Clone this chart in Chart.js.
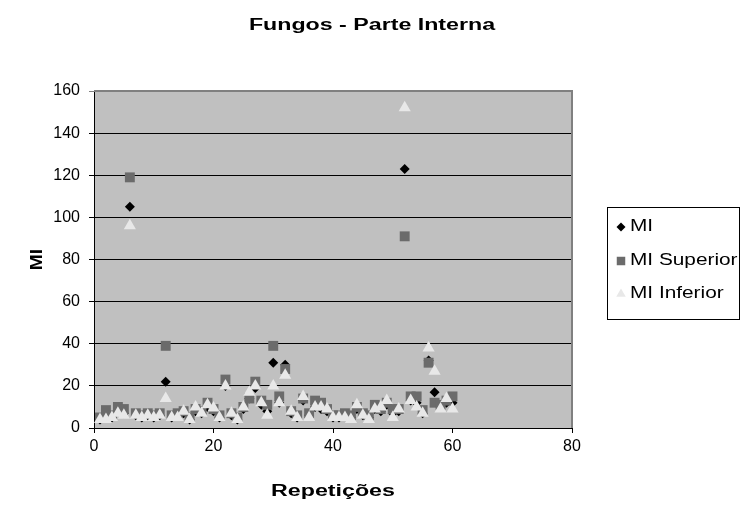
<!DOCTYPE html>
<html>
<head>
<meta charset="utf-8">
<title>Fungos - Parte Interna</title>
<script src="https://cdn.jsdelivr.net/npm/chart.js@4.4.1/dist/chart.umd.min.js"></script>
<style>
  html, body { margin: 0; padding: 0; background: #ffffff; }
  #wrap { width: 743px; height: 513px; }
</style>
</head>
<body>
<div id="wrap"><canvas id="fungos" width="743" height="513"></canvas></div>
<script>
// Repetições (eixo X)
const repeticoes = [
  1, 2, 3, 4, 5, 6, 7, 8, 9, 10,
  11, 12, 13, 14, 15, 16, 17, 18, 19, 20,
  21, 22, 23, 24, 25, 26, 27, 28, 29, 30,
  31, 32, 33, 34, 35, 36, 37, 38, 39, 40,
  41, 42, 43, 44, 45, 46, 47, 48, 49, 50,
  51, 52, 53, 54, 55, 56, 57, 58, 59, 60
];

const mi = [
  4, 6, 5, 8, 7, 105, 6, 5, 6, 5,
  6, 22, 5, 6, 7, 4, 8, 7, 10, 8,
  5, 20, 6, 4, 9, 14, 19, 11, 8, 31,
  12, 30, 7, 5, 13, 6, 10, 9, 8, 5,
  5, 6, 5, 9, 6, 5, 9, 8, 11, 7,
  8, 123, 13, 12, 7, 32, 17, 10, 12, 12
];

const miSuperior = [
  5, 8.5, 6, 10, 9, 119, 7, 6, 7, 6,
  7, 39, 6, 7, 8, 5, 9, 8, 12, 9,
  6, 23, 7, 5, 10, 14, 22, 13, 11, 39,
  15, 28, 8, 6, 14, 7, 13, 12, 9, 6,
  6, 7, 6, 10, 7, 6, 11, 9, 12, 9,
  9, 91, 15, 15, 8.5, 31, 12, 11, 13, 15
];

const miInferior = [
  4, 4, 5, 7, 6, 96, 6, 5, 6, 5,
  6, 14, 5, 5, 8, 4, 10, 7, 11, 9.5,
  5, 20, 7, 4, 10, 17, 20, 12, 6, 20,
  12, 25, 8, 5, 15, 5, 10, 10, 9, 5,
  5, 5, 4, 11, 6, 4, 9, 10, 13, 5,
  9, 152, 13, 10, 7, 38, 27, 9, 14, 9
];

const xTicks = [0, 20, 40, 60, 80];
const yTicks = [0, 20, 40, 60, 80, 100, 120, 140, 160];

const FONT = '"Liberation Sans", Arial, sans-serif';

function toPoints(values) {
  return values.map((v, i) => ({ x: repeticoes[i], y: v }));
}

const series = [
  { label: 'MI', data: mi, style: 'rectRot', color: '#000000', radius: 5, legendRadius: 4.5, order: 2 },
  { label: 'MI Superior', data: miSuperior, style: 'rect', color: '#6b6b6b', radius: 7, legendRadius: 6, order: 1 },
  { label: 'MI Inferior', data: miInferior, style: 'triangle', color: '#e8e8e8', radius: 7, legendRadius: 5.5, order: 0 }
];

// gray plot area with the darker frame on top/right
const plotArea = {
  id: 'plotArea',
  beforeDraw(chart) {
    const { ctx, chartArea: a } = chart;
    ctx.save();
    ctx.fillStyle = '#c0c0c0';
    ctx.fillRect(a.left, a.top, a.right - a.left, a.bottom - a.top);
    ctx.restore();
  },
  beforeDatasetsDraw(chart) {
    const { ctx, chartArea: a } = chart;
    ctx.save();
    ctx.strokeStyle = '#808080';
    ctx.lineWidth = 2;
    ctx.beginPath();
    ctx.moveTo(a.left, a.top);
    ctx.lineTo(a.right, a.top);
    ctx.lineTo(a.right, a.bottom);
    ctx.stroke();
    ctx.restore();
  }
};

function drawMarker(ctx, style, x, y, r) {
  ctx.beginPath();
  if (style === 'rectRot') {
    ctx.moveTo(x - r, y);
    ctx.lineTo(x, y - r);
    ctx.lineTo(x + r, y);
    ctx.lineTo(x, y + r);
  } else if (style === 'rect') {
    const s = r * Math.SQRT1_2;
    ctx.rect(x - s, y - s, 2 * s, 2 * s);
  } else {
    ctx.moveTo(x, y - r);
    ctx.lineTo(x + r * 0.866, y + r * 0.5);
    ctx.lineTo(x - r * 0.866, y + r * 0.5);
  }
  ctx.closePath();
  ctx.fill();
}

// wide lettering: text stretched along its baseline
function wideText(ctx, text, x, y, opts) {
  ctx.save();
  ctx.translate(x, y);
  if (opts.rotate) ctx.rotate(opts.rotate);
  ctx.scale(opts.stretch, 1);
  ctx.font = opts.font;
  ctx.textAlign = opts.align || 'center';
  ctx.textBaseline = 'middle';
  ctx.fillStyle = '#000';
  ctx.fillText(text, 0, 0);
  ctx.restore();
}

// chart title, axis titles and boxed legend on the right
const labels = {
  id: 'labels',
  afterDraw(chart) {
    const { ctx, chartArea: a } = chart;
    const bold = 'bold 16px ' + FONT;
    wideText(ctx, 'Fungos - Parte Interna', 372, 26, { font: bold, stretch: 1.45 });
    wideText(ctx, 'Repetições', (a.left + a.right) / 2, 492, { font: bold, stretch: 1.45 });
    wideText(ctx, 'MI', 38, (a.top + a.bottom) / 2, { font: bold, stretch: 1.2, rotate: -Math.PI / 2 });

    ctx.save();
    ctx.strokeStyle = '#000';
    ctx.lineWidth = 1;
    ctx.strokeRect(607.5, 207.5, 132, 112);
    ctx.restore();

    const rows = [227, 261, 294];
    series.forEach((s, i) => {
      ctx.save();
      ctx.fillStyle = s.color;
      drawMarker(ctx, s.style, 621, rows[i], s.legendRadius);
      ctx.restore();
      wideText(ctx, s.label, 630, rows[i], { font: '16px ' + FONT, stretch: 1.3, align: 'left' });
    });
  }
};

new Chart(document.getElementById('fungos'), {
  type: 'scatter',
  data: {
    datasets: series.map(s => ({
      label: s.label,
      data: toPoints(s.data),
      pointStyle: s.style,
      pointRadius: s.radius,
      pointBackgroundColor: s.color,
      pointBorderColor: s.color,
      pointBorderWidth: 0,
      order: s.order
    }))
  },
  options: {
    responsive: false,
    animation: false,
    devicePixelRatio: 1,
    layout: { padding: { top: 91, right: 171, left: 0, bottom: 0 } },
    plugins: {
      legend: { display: false },
      title: { display: false },
      tooltip: { enabled: false }
    },
    scales: {
      x: {
        type: 'linear',
        min: 0,
        max: 80,
        afterBuildTicks(scale) { scale.ticks = xTicks.map(v => ({ value: v })); },
        afterFit(scale) { scale.height = 85; },
        ticks: { color: '#000', font: { family: FONT, size: 16 }, padding: 4 },
        grid: { drawOnChartArea: false, drawTicks: true, tickLength: 5, color: '#000' },
        border: { display: true, color: '#000', width: 1 }
      },
      y: {
        type: 'linear',
        min: 0,
        max: 160,
        afterBuildTicks(scale) { scale.ticks = yTicks.map(v => ({ value: v })); },
        afterFit(scale) { scale.width = 94; },
        ticks: { color: '#000', font: { family: FONT, size: 16 }, padding: 9 },
        grid: {
          color: ctx => (ctx.tick && ctx.tick.value === 160 ? '#808080' : '#000'),
          tickLength: 5
        },
        border: { display: true, color: '#000', width: 1 }
      }
    }
  },
  plugins: [plotArea, labels]
});
</script>
</body>
</html>
